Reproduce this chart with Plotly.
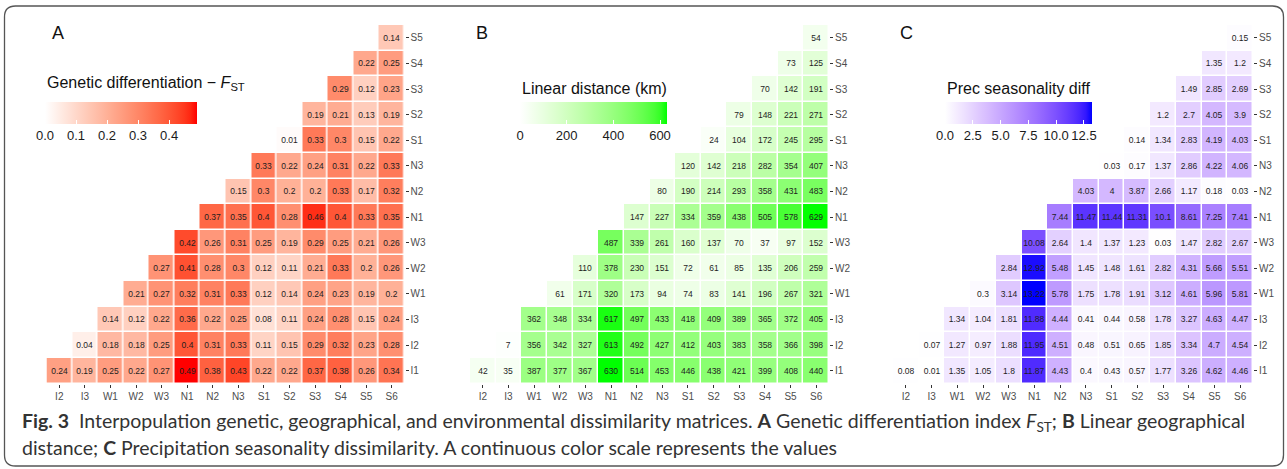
import plotly.graph_objects as go

W, H = 1287, 469

pops = ["I1", "I2", "I3", "W1", "W2", "W3", "N1", "N2", "N3", "S1", "S2", "S3", "S4", "S5", "S6"]
row_labels = pops[:-1]      # y categories, bottom -> top
col_labels = pops[1:]       # x categories, left -> right

# Panel A: genetic differentiation FST (row i holds values for columns i..S6)
fst_rows = [
    [0.24, 0.19, 0.25, 0.22, 0.27, 0.49, 0.38, 0.43, 0.22, 0.22, 0.37, 0.38, 0.26, 0.34],
    [0.04, 0.18, 0.18, 0.25, 0.4, 0.31, 0.33, 0.11, 0.15, 0.29, 0.32, 0.23, 0.28],
    [0.14, 0.12, 0.22, 0.36, 0.22, 0.25, 0.08, 0.11, 0.24, 0.28, 0.15, 0.24],
    [0.21, 0.27, 0.32, 0.31, 0.33, 0.12, 0.14, 0.24, 0.23, 0.19, 0.2],
    [0.27, 0.41, 0.28, 0.3, 0.12, 0.11, 0.21, 0.33, 0.2, 0.26],
    [0.42, 0.26, 0.31, 0.25, 0.19, 0.29, 0.25, 0.21, 0.26],
    [0.37, 0.35, 0.4, 0.28, 0.46, 0.4, 0.33, 0.35],
    [0.15, 0.3, 0.2, 0.2, 0.33, 0.17, 0.32],
    [0.33, 0.22, 0.24, 0.31, 0.22, 0.33],
    [0.01, 0.33, 0.3, 0.15, 0.22],
    [0.19, 0.21, 0.13, 0.19],
    [0.29, 0.12, 0.23],
    [0.22, 0.25],
    [0.14],
]

# Panel B: linear distance (km)
dist_rows = [
    [42, 35, 387, 377, 367, 630, 514, 453, 446, 438, 421, 399, 408, 440],
    [7, 356, 342, 327, 613, 492, 427, 412, 403, 383, 358, 366, 398],
    [362, 348, 334, 617, 497, 433, 418, 409, 389, 365, 372, 405],
    [61, 171, 320, 173, 94, 74, 83, 141, 196, 267, 321],
    [110, 378, 230, 151, 72, 61, 85, 135, 206, 259],
    [487, 339, 261, 160, 137, 70, 37, 97, 152],
    [147, 227, 334, 359, 438, 505, 578, 629],
    [80, 190, 214, 293, 358, 431, 483],
    [120, 142, 218, 282, 354, 407],
    [24, 104, 172, 245, 295],
    [79, 148, 221, 271],
    [70, 142, 191],
    [73, 125],
    [54],
]

# Panel C: precipitation seasonality difference
prec_rows = [
    [0.08, 0.01, 1.35, 1.05, 1.8, 11.87, 4.43, 0.4, 0.43, 0.57, 1.77, 3.26, 4.62, 4.46],
    [0.07, 1.27, 0.97, 1.88, 11.95, 4.51, 0.48, 0.51, 0.65, 1.85, 3.34, 4.7, 4.54],
    [1.34, 1.04, 1.81, 11.88, 4.44, 0.41, 0.44, 0.58, 1.78, 3.27, 4.63, 4.47],
    [0.3, 3.14, 13.22, 5.78, 1.75, 1.78, 1.91, 3.12, 4.61, 5.96, 5.81],
    [2.84, 12.92, 5.48, 1.45, 1.48, 1.61, 2.82, 4.31, 5.66, 5.51],
    [10.08, 2.64, 1.4, 1.37, 1.23, 0.03, 1.47, 2.82, 2.67],
    [7.44, 11.47, 11.44, 11.31, 10.1, 8.61, 7.25, 7.41],
    [4.03, 4, 3.87, 2.66, 1.17, 0.18, 0.03],
    [0.03, 0.17, 1.37, 2.86, 4.22, 4.06],
    [0.14, 1.34, 2.83, 4.19, 4.03],
    [1.2, 2.7, 4.05, 3.9],
    [1.49, 2.85, 2.69],
    [1.35, 1.2],
    [0.15],
]

fst_ticks = [0.0, 0.1, 0.2, 0.3, 0.4]
fst_ticktext = ["0.0", "0.1", "0.2", "0.3", "0.4"]
dist_ticks = [0, 200, 400, 600]
dist_ticktext = ["0", "200", "400", "600"]
prec_ticks = [0.0, 2.5, 5.0, 7.5, 10.0, 12.5]
prec_ticktext = ["0.0", "2.5", "5.0", "7.5", "10.0", "12.5"]

legend_titles = ["Genetic differentiation \u2212 <i>F</i><sub>ST</sub>",
                 "Linear distance (km)", "Prec seasonality diff"]
panel_letters = ["A", "B", "C"]


# ---------- helpers ----------
def px(x):
    return x / W


def py(y):
    return 1 - y / H


def _lin(c):
    c = c / 255.0
    return c / 12.92 if c <= 0.04045 else ((c + 0.055) / 1.055) ** 2.4


def _gam(c):
    c = 12.92 * c if c <= 0.0031308 else 1.055 * c ** (1 / 2.4) - 0.055
    return max(0, min(255, round(c * 255)))


def rgb2lab(rgb):
    r, g, b = [_lin(v) for v in rgb]
    x = (0.4124 * r + 0.3576 * g + 0.1805 * b) / 0.95047
    y = (0.2126 * r + 0.7152 * g + 0.0722 * b) / 1.0
    z = (0.0193 * r + 0.1192 * g + 0.9505 * b) / 1.08883

    def f(t):
        return t ** (1 / 3) if t > 0.008856 else 7.787 * t + 16 / 116
    fx, fy, fz = f(x), f(y), f(z)
    return (116 * fy - 16, 500 * (fx - fy), 200 * (fy - fz))


def lab2rgb(lab):
    L, a, b = lab
    fy = (L + 16) / 116
    fx = fy + a / 500
    fz = fy - b / 200

    def finv(t):
        return t ** 3 if t ** 3 > 0.008856 else (t - 16 / 116) / 7.787
    x, y, z = finv(fx) * 0.95047, finv(fy), finv(fz) * 1.08883
    r = 3.2406 * x - 1.5372 * y - 0.4986 * z
    g = -0.9689 * x + 1.8758 * y + 0.0415 * z
    bb = 0.0557 * x - 0.2040 * y + 1.0570 * z
    return (_gam(r), _gam(g), _gam(bb))


def lab_scale(high, n=24):
    lo = rgb2lab((255, 255, 255))
    hi = rgb2lab(high)
    out = []
    for i in range(n + 1):
        t = i / n
        lab = tuple(lo[k] + (hi[k] - lo[k]) * t for k in range(3))
        r, g, b = lab2rgb(lab)
        out.append([t, f"rgb({r},{g},{b})"])
    return out


def build(rows):
    z, txt = [], []
    for r, vals in enumerate(rows):
        zr, tr = [], []
        for c in range(len(col_labels)):
            if c >= r:
                v = vals[c - r]
                zr.append(v)
                tr.append(f"{v:g}")
            else:
                zr.append(None)
                tr.append("")
        z.append(zr)
        txt.append(tr)
    return z, txt


FONT = "Liberation Sans, Arial, sans-serif"
panels = [
    dict(rows=fst_rows, high=(255, 0, 0), zmax=0.49, ticks=fst_ticks, ticktext=fst_ticktext,
         x0=46.5, x1=404.5, cb_x=45, cb_len=152, title_x=45, title_y=84, letter_x=58),
    dict(rows=dist_rows, high=(0, 255, 0), zmax=630, ticks=dist_ticks, ticktext=dist_ticktext,
         x0=470, x1=829, cb_x=520, cb_len=147, title_x=520, title_y=88, letter_x=482),
    dict(rows=prec_rows, high=(0, 0, 255), zmax=13.22, ticks=prec_ticks, ticktext=prec_ticktext,
         x0=893, x1=1253, cb_x=945, cb_len=147, title_x=945, title_y=88, letter_x=906),
]
Y_TOP, Y_BOT = 25, 383.5

fig = go.Figure()
annotations = []
for i, p in enumerate(panels):
    z, txt = build(p["rows"])
    xa = "x" if i == 0 else f"x{i + 1}"
    ya = "y" if i == 0 else f"y{i + 1}"
    fig.add_trace(go.Heatmap(
        z=z, x=col_labels, y=row_labels, text=txt, texttemplate="%{text}",
        textfont=dict(size=8.5, color="#1e1e1e", family=FONT),
        colorscale=lab_scale(p["high"]), zmin=0, zmax=p["zmax"],
        xgap=1.5, ygap=1.5, hoverinfo="skip", xaxis=xa, yaxis=ya,
        colorbar=dict(orientation="h", x=px(p["cb_x"]), xanchor="left",
                      y=py(102), yanchor="top", len=p["cb_len"], lenmode="pixels",
                      thickness=22, thicknessmode="pixels", xpad=0, ypad=0,
                      outlinewidth=0, ticks="inside", tickcolor="white", ticklen=4,
                      tickwidth=1, tickvals=p["ticks"], ticktext=p["ticktext"],
                      tickfont=dict(size=13, color="#1a1a1a", family=FONT)),
    ))
    axsuffix = "" if i == 0 else str(i + 1)
    fig.layout["xaxis" + axsuffix] = dict(
        domain=[px(p["x0"]), px(p["x1"])], anchor=ya, type="category",
        categoryorder="array", categoryarray=col_labels, range=[-0.5, 13.5],
        showgrid=False, zeroline=False, showline=False, ticks="outside",
        ticklen=3, tickwidth=1, tickcolor="#333333",
        tickfont=dict(size=10, color="#4d4d4d", family=FONT), fixedrange=True)
    fig.layout["yaxis" + axsuffix] = dict(
        domain=[py(Y_BOT), py(Y_TOP)], anchor=xa, side="right", type="category",
        categoryorder="array", categoryarray=row_labels, range=[-0.5, 13.5],
        showgrid=False, zeroline=False, showline=False, ticks="outside",
        ticklen=3, tickwidth=1, tickcolor="#333333",
        tickfont=dict(size=10, color="#4d4d4d", family=FONT), fixedrange=True)
    annotations.append(dict(text=legend_titles[i], x=px(p["title_x"]), y=py(p["title_y"]),
                            xref="paper", yref="paper", xanchor="left", yanchor="middle",
                            showarrow=False, font=dict(size=16, color="#111", family=FONT)))
    annotations.append(dict(text=panel_letters[i], x=px(p["letter_x"]), y=py(33),
                            xref="paper", yref="paper", xanchor="center", yanchor="middle",
                            showarrow=False, font=dict(size=18, color="#111", family=FONT)))

CAP_FONT = "Lato, Open Sans, sans-serif"
caption1 = ("<b>Fig. 3</b>  Interpopulation genetic, geographical, and environmental dissimilarity "
            "matrices. <b>A</b> Genetic differentiation index <i>F</i><sub>ST</sub>; "
            "<b>B</b> Linear geographical")
caption2 = ("distance; <b>C</b> Precipitation seasonality dissimilarity. "
            "A continuous color scale represents the values")
annotations.append(dict(text=caption1, x=px(20), y=py(422), xref="paper", yref="paper",
                        xanchor="left", yanchor="middle", showarrow=False,
                        font=dict(size=19.5, color="#333", family=CAP_FONT)))
annotations.append(dict(text=caption2, x=px(20), y=py(447), xref="paper", yref="paper",
                        xanchor="left", yanchor="middle", showarrow=False,
                        font=dict(size=19.5, color="#333", family=CAP_FONT)))

# rounded border
L_, T_, R_, B_, rad = 4.5, 6, 1283.5, 466, 11
path = (f"M {px(L_ + rad)},{py(T_)} L {px(R_ - rad)},{py(T_)} "
        f"Q {px(R_)},{py(T_)} {px(R_)},{py(T_ + rad)} "
        f"L {px(R_)},{py(B_ - rad)} Q {px(R_)},{py(B_)} {px(R_ - rad)},{py(B_)} "
        f"L {px(L_ + rad)},{py(B_)} Q {px(L_)},{py(B_)} {px(L_)},{py(B_ - rad)} "
        f"L {px(L_)},{py(T_ + rad)} Q {px(L_)},{py(T_)} {px(L_ + rad)},{py(T_)} Z")

fig.update_layout(
    width=W, height=H, margin=dict(l=0, r=0, t=0, b=0),
    paper_bgcolor="white", plot_bgcolor="white",
    font=dict(family=FONT),
    annotations=annotations,
    shapes=[dict(type="path", path=path, xref="paper", yref="paper",
                 line=dict(color="#555555", width=1.3), fillcolor="rgba(0,0,0,0)")],
)

fig.write_html("out.html", config={"displayModeBar": False, "staticPlot": True},
               post_script="document.body.style.margin='0';")
